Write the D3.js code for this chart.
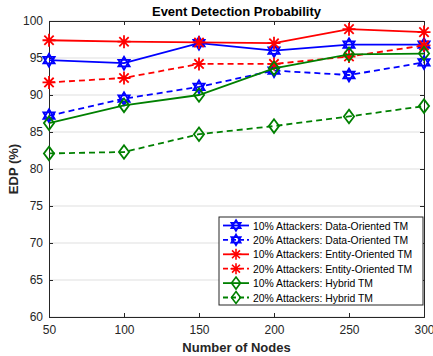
<!DOCTYPE html>
<html>
<head>
<meta charset="utf-8">
<script src="https://cdn.jsdelivr.net/npm/d3@7"></script>
<style>
  body { margin: 0; background: #fff; }
  text { font-family: "Liberation Sans", Arial, sans-serif; }
</style>
</head>
<body>
<div id="chart"></div>
<script>
const nodes = [50, 100, 150, 200, 250, 300];
const yTicks = [60, 65, 70, 75, 80, 85, 90, 95, 100];

const dataTm10 = [94.7, 94.3, 97.0, 96.0, 96.8, 96.8];
const dataTm20 = [87.2, 89.5, 91.1, 93.3, 92.7, 94.4];
const entityTm10 = [97.4, 97.2, 97.1, 97.0, 98.9, 98.5];
const entityTm20 = [91.7, 92.3, 94.2, 94.2, 95.2, 96.7];
const hybridTm10 = [86.2, 88.6, 90.0, 93.6, 95.5, 95.6];
const hybridTm20 = [82.1, 82.3, 84.7, 85.8, 87.1, 88.5];

const series = [
  { name: '10% Attackers: Data-Oriented TM', values: dataTm10, color: '#0000ff', dash: null, marker: 'hex' },
  { name: '20% Attackers: Data-Oriented TM', values: dataTm20, color: '#0000ff', dash: '6,4', marker: 'hex' },
  { name: '10% Attackers: Entity-Oriented TM', values: entityTm10, color: '#ff0000', dash: null, marker: 'star' },
  { name: '20% Attackers: Entity-Oriented TM', values: entityTm20, color: '#ff0000', dash: '6,4', marker: 'star' },
  { name: '10% Attackers: Hybrid TM', values: hybridTm10, color: '#008000', dash: null, marker: 'diamond' },
  { name: '20% Attackers: Hybrid TM', values: hybridTm20, color: '#008000', dash: '6,4', marker: 'diamond' }
];

const width = 433, height = 356;
const margin = { top: 21, right: 9, bottom: 39, left: 49 };

const svg = d3.select('#chart').append('svg')
  .attr('width', width)
  .attr('height', height);

const x = d3.scaleLinear().domain([50, 300]).range([margin.left, width - margin.right]);
const y = d3.scaleLinear().domain([60, 100]).range([height - margin.bottom, margin.top]);

// grid lines
svg.append('g')
  .selectAll('line')
  .data(yTicks)
  .enter()
  .append('line')
  .attr('x1', x(50)).attr('x2', x(300))
  .attr('y1', d => y(d)).attr('y2', d => y(d))
  .attr('stroke', '#dfdfdf')
  .attr('stroke-width', 1);

// axes
const xAxis = svg.append('g')
  .attr('transform', `translate(0,${y(60)})`)
  .call(d3.axisBottom(x).tickValues(nodes).tickSize(-4).tickPadding(8));
const yAxis = svg.append('g')
  .attr('transform', `translate(${x(50)},0)`)
  .call(d3.axisLeft(y).tickValues(yTicks).tickSize(-4).tickPadding(6));
const xTop = svg.append('g')
  .attr('transform', `translate(0,${y(100)})`)
  .call(d3.axisTop(x).tickValues(nodes).tickSize(-4).tickFormat(''));
const yRight = svg.append('g')
  .attr('transform', `translate(${x(300)},0)`)
  .call(d3.axisRight(y).tickValues(yTicks).tickSize(-4).tickFormat(''));

[xAxis, yAxis, xTop, yRight].forEach(g => {
  g.select('.domain').attr('stroke', '#262626').attr('stroke-width', 1);
  g.selectAll('.tick line').attr('stroke', '#262626');
  g.selectAll('.tick text')
    .attr('fill', '#262626')
    .style('font-size', '12px')
    .style('font-family', '"Liberation Sans", Arial, sans-serif');
});

// marker shapes
function markerPath(type, r) {
  if (type === 'diamond') {
    return `M0,${-r}L${r * 0.75},0L0,${r}L${-r * 0.75},0Z`;
  }
  if (type === 'hex') {
    const pts1 = [], pts2 = [];
    for (let i = 0; i < 3; i++) {
      const a1 = -Math.PI / 2 + i * 2 * Math.PI / 3;
      const a2 = Math.PI / 2 + i * 2 * Math.PI / 3;
      pts1.push([r * Math.cos(a1), r * Math.sin(a1)]);
      pts2.push([r * Math.cos(a2), r * Math.sin(a2)]);
    }
    return 'M' + pts1.join('L') + 'Z' + 'M' + pts2.join('L') + 'Z';
  }
  // asterisk
  const d = r * 0.72;
  return `M0,${-r}L0,${r}M${-r},0L${r},0M${-d},${-d}L${d},${d}M${-d},${d}L${d},${-d}`;
}

const line = d3.line()
  .x((d, i) => x(nodes[i]))
  .y(d => y(d));

series.forEach(s => {
  const g = svg.append('g');
  g.append('path')
    .datum(s.values)
    .attr('d', line)
    .attr('fill', 'none')
    .attr('stroke', s.color)
    .attr('stroke-width', 1.8)
    .attr('stroke-dasharray', s.dash);
  g.selectAll('.mk')
    .data(s.values)
    .enter()
    .append('path')
    .attr('transform', (d, i) => `translate(${x(nodes[i])},${y(d)})`)
    .attr('d', markerPath(s.marker, s.marker === 'diamond' ? 6.8 : 6.5))
    .attr('fill', 'none')
    .attr('stroke', s.color)
    .attr('stroke-width', 1.8);
});

// title and labels
svg.append('text')
  .attr('x', (x(50) + x(300)) / 2)
  .attr('y', 16)
  .attr('text-anchor', 'middle')
  .style('font-size', '13px')
  .style('font-weight', 'bold')
  .attr('fill', '#000')
  .text('Event Detection Probability');

svg.append('text')
  .attr('x', (x(50) + x(300)) / 2)
  .attr('y', 352)
  .attr('text-anchor', 'middle')
  .style('font-size', '13px')
  .style('font-weight', 'bold')
  .attr('fill', '#262626')
  .text('Number of Nodes');

svg.append('text')
  .attr('transform', `translate(18,${y(80)}) rotate(-90)`)
  .attr('text-anchor', 'middle')
  .style('font-size', '13px')
  .style('font-weight', 'bold')
  .attr('fill', '#262626')
  .text('EDP (%)');

// legend
const legend = svg.append('g').attr('transform', 'translate(219,217)');
legend.append('rect')
  .attr('width', 204)
  .attr('height', 88)
  .attr('fill', '#fff')
  .attr('stroke', '#262626')
  .attr('stroke-width', 1);

series.forEach((s, i) => {
  const row = legend.append('g').attr('transform', `translate(0,${8.5 + i * 14.4})`);
  row.append('line')
    .attr('x1', 4).attr('x2', 30)
    .attr('stroke', s.color)
    .attr('stroke-width', 1.8)
    .attr('stroke-dasharray', s.dash ? '5,3' : null);
  row.append('path')
    .attr('transform', 'translate(17,0)')
    .attr('d', markerPath(s.marker, s.marker === 'diamond' ? 6 : 5.5))
    .attr('fill', 'none')
    .attr('stroke', s.color)
    .attr('stroke-width', 1.6);
  row.append('text')
    .attr('x', 34)
    .attr('y', 4)
    .style('font-size', '10.4px')
    .attr('fill', '#000')
    .text(s.name);
});
</script>
</body>
</html>
